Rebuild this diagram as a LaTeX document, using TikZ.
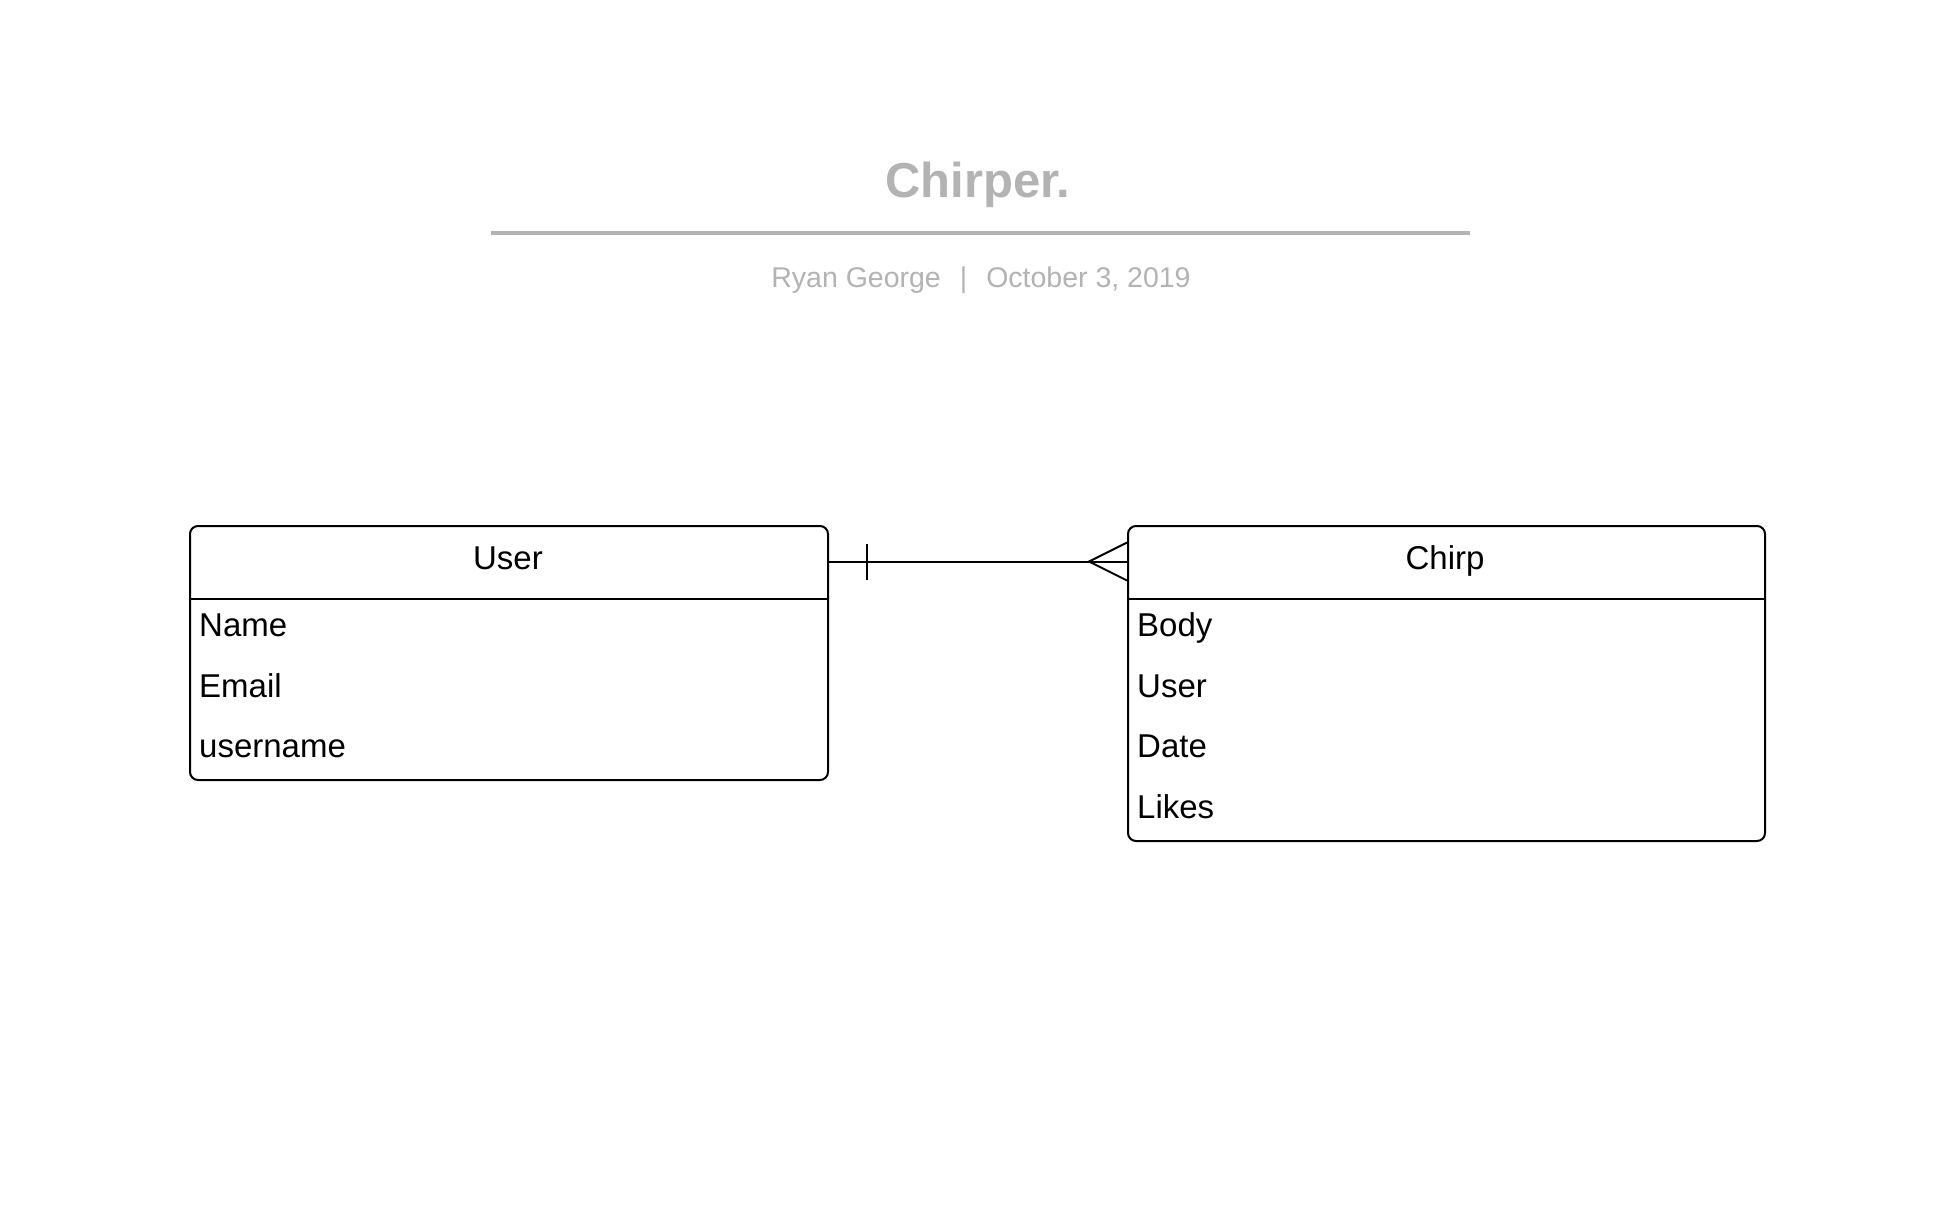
\documentclass[tikz,border=0pt]{standalone}
\usepackage{fontspec}
\setmainfont{Liberation Sans}
\definecolor{titlegray}{RGB}{179,179,179}
\begin{document}
\begin{tikzpicture}[x=1pt,y=-1pt,
  entity/.style={draw=black,line width=2pt,rounded corners=8pt,inner sep=0pt,anchor=north west},
  field/.style={anchor=base west,inner sep=0pt,font=\fontsize{33}{40}\selectfont},
  header/.style={anchor=base,inner sep=0pt,font=\fontsize{33}{40}\selectfont},
  conn/.style={line width=2pt},
  sep/.style={line width=2pt}]
\useasboundingbox[fill=white] (0,0) rectangle (1946,1230);
% title block
\node[anchor=base,inner sep=0pt,text=titlegray,font=\fontsize{49}{58}\selectfont\bfseries] (title) at (978,198) {Chirper.};
\coordinate (rl) at (491,233);
\coordinate (rr) at (1470,233);
\draw[titlegray,line width=4pt] (rl) -- (rr);
\node[anchor=base,inner sep=0pt,text=titlegray,font=\fontsize{28.5}{34}\selectfont] (sub) at (981,288) {Ryan George\hspace{19pt}|\hspace{19pt}October 3, 2019};
% entities
\node[entity,minimum width=638pt,minimum height=254pt] (user) at (189,525) {};
\node[entity,minimum width=637pt,minimum height=315pt] (chirp) at (1127,525) {};
\draw[sep] ([yshift=-74pt]user.north west) -- ([yshift=-74pt]user.north east);
\draw[sep] ([yshift=-74pt]chirp.north west) -- ([yshift=-74pt]chirp.north east);
\node[header] (userh) at (508,569) {User};
\node[header] (chirph) at (1445,569) {Chirp};
\node[field] (u1) at (199,636) {Name};
\node[field] (u2) at (199,697) {Email};
\node[field] (u3) at (199,757) {username};
\node[field] (c1) at (1137,636) {Body};
\node[field] (c2) at (1137,697) {User};
\node[field] (c3) at (1137,757) {Date};
\node[field] (c4) at (1137,818) {Likes};
% relationship
\coordinate (ua) at ([yshift=-36.5pt]user.north east);
\coordinate (cb) at ([yshift=-36.5pt]chirp.north west);
\draw[conn] (ua) -- (cb);
\draw[line width=1.3pt] ([xshift=38pt,yshift=18pt]ua) -- ([xshift=38pt,yshift=-18pt]ua);
\draw[conn] ([yshift=19pt]cb) -- ([xshift=-38pt]cb) -- ([yshift=-19pt]cb);
\end{tikzpicture}
\end{document}
